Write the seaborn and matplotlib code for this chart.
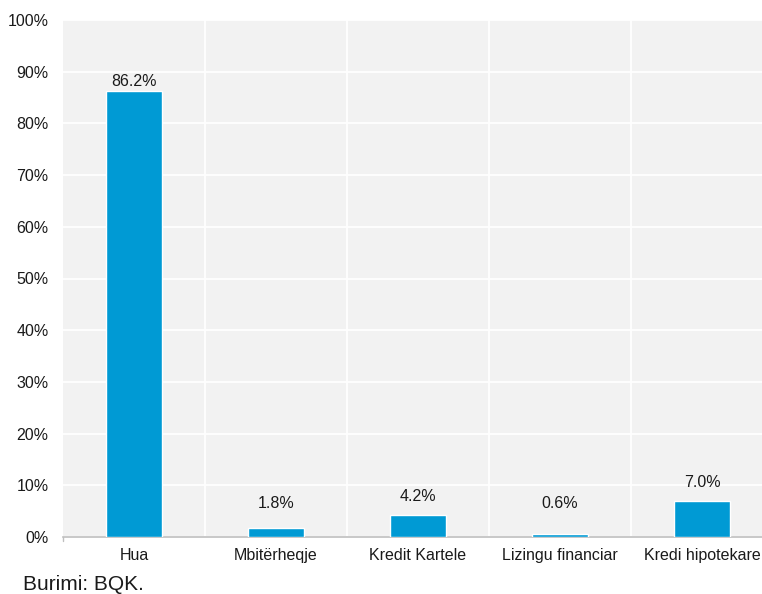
import matplotlib
matplotlib.use("Agg")
import matplotlib.pyplot as plt
from matplotlib.ticker import FixedLocator, PercentFormatter
import seaborn as sns
import pandas as pd

categories = ["Hua", "Mbitërheqje", "Kredit Kartele", "Lizingu financiar", "Kredi hipotekare"]
shares = [86.2, 1.8, 4.2, 0.6, 7.0]
y_ticks = [0, 10, 20, 30, 40, 50, 60, 70, 80, 90, 100]
source_note = "Burimi: BQK."

# vertical lift of each value label above its bar, in percentage points
label_lift = [1.9, 4.6, 3.7, 5.8, 3.5]

sns.set_theme(style="whitegrid", rc={
    "axes.facecolor": "#f2f2f2",
    "grid.color": "white",
    "grid.linewidth": 1.3,
})
plt.rcParams["font.family"] = ["Liberation Sans", "DejaVu Sans"]

df = pd.DataFrame({"category": categories, "share": shares})

fig = plt.figure(figsize=(7.62, 5.94), dpi=100)
ax = fig.add_axes([63 / 762, 57 / 594, 1 - 63 / 762, 517 / 594])

sns.barplot(data=df, x="category", y="share", color="#009ad4", width=0.39,
            saturation=1, ax=ax, zorder=3)

ax.set_ylim(0, 100)
ax.set_xlim(-0.5, -0.5 + (762 - 63) / 142)
ax.yaxis.set_major_locator(FixedLocator(y_ticks))
ax.yaxis.set_major_formatter(PercentFormatter(decimals=0))
ax.xaxis.set_minor_locator(FixedLocator([0.5, 1.5, 2.5, 3.5, 4.5]))

ax.grid(False)
ax.yaxis.grid(True, which="major")
ax.xaxis.grid(True, which="minor")
ax.set_axisbelow(True)

ax.tick_params(axis="y", which="major", length=0, pad=10.5, labelsize=11.5, colors="#1a1a1a")
ax.tick_params(axis="x", which="major", length=0, pad=8, labelsize=11.5, colors="#1a1a1a")
ax.tick_params(axis="x", which="minor", length=4, width=1, color="#bfbfbf", direction="out")

for side in ["left", "right", "top"]:
    ax.spines[side].set_visible(False)
ax.spines["bottom"].set_color("#bfbfbf")
ax.spines["bottom"].set_linewidth(1.2)
ax.set_xlabel("")
ax.set_ylabel("")

for i, (v, lift) in enumerate(zip(shares, label_lift)):
    ax.text(i, v + lift, f"{v:.1f}%", ha="center", va="center",
            fontsize=11.5, color="#1a1a1a", zorder=4)

# tick mark at the left end of the axis line
ax.plot([-0.5, -0.5], [0, -0.8], color="#bfbfbf", lw=1, clip_on=False, zorder=5)

fig.text(23 / 762, 1 - 584 / 594, source_note, ha="left", va="center",
         fontsize=15, color="#1a1a1a")

fig.savefig("out.png", dpi=100)
